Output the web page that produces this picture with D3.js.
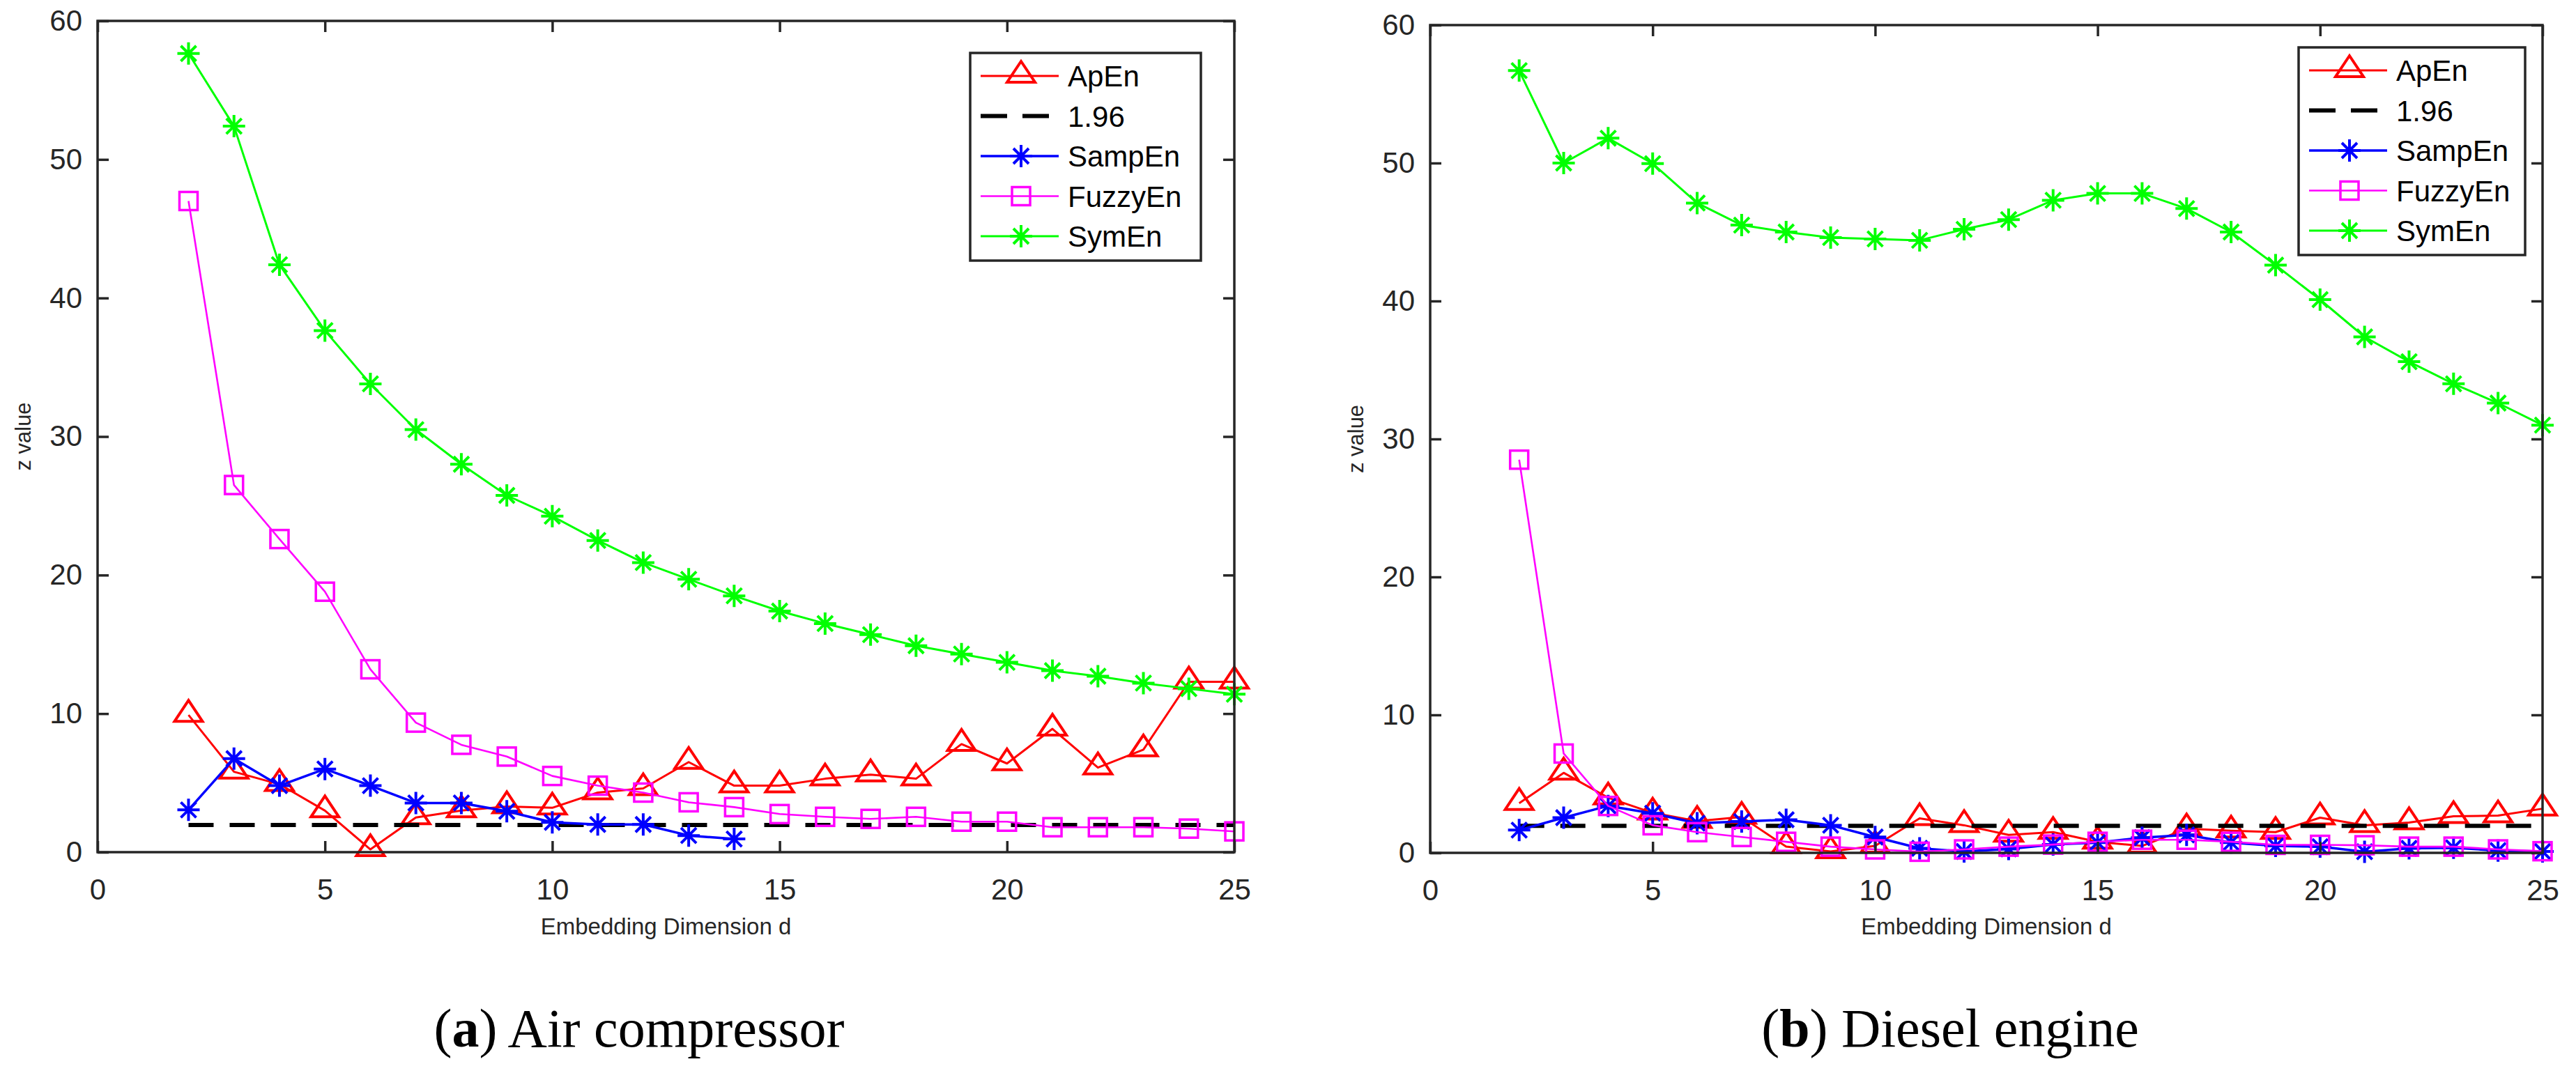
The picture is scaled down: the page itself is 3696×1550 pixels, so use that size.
<!DOCTYPE html>
<html>
<head>
<meta charset="utf-8">
<script src="https://cdn.jsdelivr.net/npm/d3@7"></script>
<style>
  body { margin: 0; background: #fff; }
  text { font-family: "Liberation Sans", Arial, Helvetica, sans-serif; }
</style>
</head>
<body>
<div id="chart"></div>
<script>
// embedding dimension d
var dims = [2, 3, 4, 5, 6, 7, 8, 9, 10, 11, 12, 13, 14, 15, 16, 17, 18, 19, 20, 21, 22, 23, 24, 25];

// (a) air compressor
var apenA = [9.9, 5.8, 4.9, 3.0, 0.2, 2.5, 3.0, 3.3, 3.2, 4.3, 4.6, 6.5, 4.8, 4.8, 5.3, 5.6, 5.3, 7.8, 6.4, 8.9, 6.1, 7.4, 12.3, 12.3];
var sampenA = [3.05, 6.75, 4.8, 6.0, 4.8, 3.55, 3.55, 2.95, 2.15, 2.0, 2.0, 1.2, 0.95];
var fuzzyenA = [47.0, 26.5, 22.6, 18.8, 13.2, 9.35, 7.75, 6.9, 5.5, 4.8, 4.3, 3.6, 3.25, 2.75, 2.55, 2.4, 2.55, 2.2, 2.2, 1.8, 1.8, 1.8, 1.7, 1.5];
var symenA = [57.65, 52.4, 42.4, 37.65, 33.8, 30.5, 28.0, 25.75, 24.25, 22.5, 20.9, 19.7, 18.5, 17.4, 16.5, 15.7, 14.9, 14.3, 13.7, 13.1, 12.7, 12.2, 11.8, 11.4];

// (b) diesel engine
var apenB = [3.6, 5.8, 4.0, 2.9, 2.3, 2.6, 0.45, 0.1, 0.5, 2.5, 2.0, 1.3, 1.5, 0.8, 0.5, 1.75, 1.6, 1.5, 2.55, 2.0, 2.2, 2.65, 2.7, 3.2];
var sampenB = [1.65, 2.55, 3.4, 2.87, 2.15, 2.27, 2.4, 2.0, 1.15, 0.33, 0.1, 0.28, 0.6, 0.75, 1.1, 1.3, 0.75, 0.5, 0.45, 0.08, 0.33, 0.37, 0.17, 0.1];
var fuzzyenB = [28.5, 7.2, 3.4, 2.0, 1.5, 1.15, 0.8, 0.45, 0.25, 0.08, 0.25, 0.45, 0.6, 0.8, 0.95, 0.95, 0.8, 0.58, 0.58, 0.55, 0.45, 0.45, 0.25, 0.12];
var symenB = [56.7, 50.0, 51.8, 49.96, 47.1, 45.5, 45.0, 44.6, 44.5, 44.4, 45.2, 45.9, 47.3, 47.8, 47.8, 46.7, 45.0, 42.6, 40.1, 37.4, 35.6, 34.0, 32.6, 31.0];

// significance level
var zCrit = 1.96;

// ticks and labels
var xTicks = [0, 5, 10, 15, 20, 25];
var yTicks = [0, 10, 20, 30, 40, 50, 60];
var seriesNames = ["ApEn", "1.96", "SampEn", "FuzzyEn", "SymEn"];
var xLabel = "Embedding Dimension d";
var yLabel = "z value";
var captionsBold = ["a", "b"];
var captionsText = [" Air compressor", " Diesel engine"];

//Define SVG area dimensions
var svgWidth = 3696;
var svgHeight = 1550;

var axisColor = "#262626";

var svg = d3.select("#chart").append("svg")
    .attr("width", svgWidth)
    .attr("height", svgHeight)
    .style("display", "block");

svg.append("rect")
    .attr("width", svgWidth)
    .attr("height", svgHeight)
    .attr("fill", "#fff");

// draws one marker glyph at 0,0
function drawMarker(g, shape, color) {
    if (shape === "triangle") {
        g.append("path")
            .attr("d", "M0,-21L20,9L-20,9Z")
            .attr("fill", "none")
            .attr("stroke", color)
            .attr("stroke-width", 4)
            .attr("stroke-linejoin", "miter");
    }
    else if (shape === "square") {
        g.append("rect")
            .attr("x", -13).attr("y", -13)
            .attr("width", 26).attr("height", 26)
            .attr("fill", "none")
            .attr("stroke", color)
            .attr("stroke-width", 3.5);
    }
    else if (shape === "star") {
        g.append("path")
            .attr("d", "M0,-16V16M-16,0H16M-11,-11L11,11M-11,11L11,-11")
            .attr("fill", "none")
            .attr("stroke", color)
            .attr("stroke-width", 4);
    }
}

function drawPanel(p) {
    var xScale = d3.scaleLinear().domain([0, 25]).range([p.left, p.right]);
    var yScale = d3.scaleLinear().domain([0, 60]).range([p.bottom, p.top]);

    var g = svg.append("g");

    // axes: bottom/left with labels, top/right mirror ticks
    var bottomAxis = d3.axisBottom(xScale).tickValues(xTicks).tickSizeInner(-16).tickSizeOuter(0).tickPadding(38);
    var topAxis = d3.axisTop(xScale).tickValues(xTicks).tickSizeInner(-16).tickSizeOuter(0).tickFormat("");
    var leftAxis = d3.axisLeft(yScale).tickValues(yTicks).tickSizeInner(-16).tickSizeOuter(0).tickPadding(38);
    var rightAxis = d3.axisRight(yScale).tickValues(yTicks).tickSizeInner(-16).tickSizeOuter(0).tickFormat("");

    var series = [
        { values: p.apen, color: "#ff0000", shape: "triangle", width: 3 },
        { values: p.sampen, color: "#0000ff", shape: "star", width: 3.5 },
        { values: p.fuzzyen, color: "#ff00ff", shape: "square", width: 2.6 },
        { values: p.symen, color: "#00ff00", shape: "star", width: 3 }
    ];

    var line = d3.line()
        .x(d => xScale(d.d))
        .y(d => yScale(d.v));

    function drawSeries(s) {
        var pts = s.values.map((v, i) => ({ d: dims[i], v: v }));
        var sg = g.append("g");
        sg.append("path")
            .datum(pts)
            .attr("d", line)
            .attr("fill", "none")
            .attr("stroke", s.color)
            .attr("stroke-width", s.width)
            .attr("stroke-linejoin", "round");
        sg.selectAll(".mk")
            .data(pts)
            .enter()
            .append("g")
            .attr("transform", d => `translate(${xScale(d.d)},${yScale(d.v)})`)
            .each(function() { drawMarker(d3.select(this), s.shape, s.color); });
    }

    // plot order matches legend order
    drawSeries(series[0]);

    g.append("line")
        .attr("x1", xScale(dims[0]))
        .attr("x2", xScale(dims[dims.length - 1]))
        .attr("y1", yScale(zCrit))
        .attr("y2", yScale(zCrit))
        .attr("stroke", "#000")
        .attr("stroke-width", 6)
        .attr("stroke-dasharray", "36,23");

    drawSeries(series[1]);
    drawSeries(series[2]);
    drawSeries(series[3]);

    // box
    g.append("rect")
        .attr("x", p.left).attr("y", p.top)
        .attr("width", p.right - p.left).attr("height", p.bottom - p.top)
        .attr("fill", "none")
        .attr("stroke", axisColor)
        .attr("stroke-width", 3.5);

    var axes = [
        g.append("g").attr("transform", `translate(0,${p.bottom})`).call(bottomAxis),
        g.append("g").attr("transform", `translate(0,${p.top})`).call(topAxis),
        g.append("g").attr("transform", `translate(${p.left},0)`).call(leftAxis),
        g.append("g").attr("transform", `translate(${p.right},0)`).call(rightAxis)
    ];
    axes.forEach(function(a) {
        a.select(".domain").remove();
        a.selectAll(".tick line").attr("stroke", axisColor).attr("stroke-width", 3.5);
        a.selectAll(".tick text")
            .attr("fill", axisColor)
            .style("font-size", "42px")
            .style("font-family", "'Liberation Sans', Arial, sans-serif");
    });
    axes[2].selectAll(".tick text").attr("x", -22);
    axes[0].selectAll(".tick text").attr("y", 38);

    // axis titles
    g.append("text")
        .attr("x", (p.left + p.right) / 2)
        .attr("y", 1341)
        .attr("text-anchor", "middle")
        .attr("fill", axisColor)
        .style("font-size", "33px")
        .text(xLabel);

    g.append("text")
        .attr("transform", `translate(${p.left - 96},${(p.top + p.bottom) / 2}) rotate(-90)`)
        .attr("text-anchor", "middle")
        .attr("fill", axisColor)
        .style("font-size", "31px")
        .text(yLabel);

    // legend
    var lg = g.append("g").attr("transform", `translate(${p.legX},${p.legY})`);
    lg.append("rect")
        .attr("width", p.legW).attr("height", 298)
        .attr("fill", "#fff")
        .attr("stroke", axisColor)
        .attr("stroke-width", 3.5);

    var legendItems = [series[0], null, series[1], series[2], series[3]];
    legendItems.forEach(function(s, i) {
        var ry = 33 + i * 57.5;
        if (s) {
            lg.append("line")
                .attr("x1", 15).attr("x2", 127)
                .attr("y1", ry).attr("y2", ry)
                .attr("stroke", s.color)
                .attr("stroke-width", s.width);
            drawMarker(lg.append("g").attr("transform", `translate(73,${ry})`), s.shape, s.color);
        }
        else {
            lg.append("line")
                .attr("x1", 15).attr("x2", 113)
                .attr("y1", ry).attr("y2", ry)
                .attr("stroke", "#000")
                .attr("stroke-width", 6)
                .attr("stroke-dasharray", "38,22");
        }
        lg.append("text")
            .attr("x", 140)
            .attr("y", ry)
            .attr("dy", "0.36em")
            .attr("fill", "#000")
            .style("font-size", "42px")
            .text(seriesNames[i]);
    });

    // caption
    var cap = svg.append("text")
        .attr("x", p.capX)
        .attr("y", 1502)
        .attr("text-anchor", "middle")
        .attr("fill", "#000")
        .style("font-family", "'Liberation Serif', 'Times New Roman', serif")
        .style("font-size", "78px");
    cap.append("tspan").text("(");
    cap.append("tspan").style("font-weight", "bold").text(p.capBold);
    cap.append("tspan").text(")" + p.capText);
}

drawPanel({
    left: 140, right: 1771, top: 30, bottom: 1223,
    apen: apenA, sampen: sampenA, fuzzyen: fuzzyenA, symen: symenA,
    legX: 1392, legY: 76, legW: 331,
    capX: 917, capBold: captionsBold[0], capText: captionsText[0]
});

drawPanel({
    left: 2052, right: 3648, top: 36, bottom: 1224,
    apen: apenB, sampen: sampenB, fuzzyen: fuzzyenB, symen: symenB,
    legX: 3298, legY: 68, legW: 325,
    capX: 2798, capBold: captionsBold[1], capText: captionsText[1]
});
</script>
</body>
</html>
